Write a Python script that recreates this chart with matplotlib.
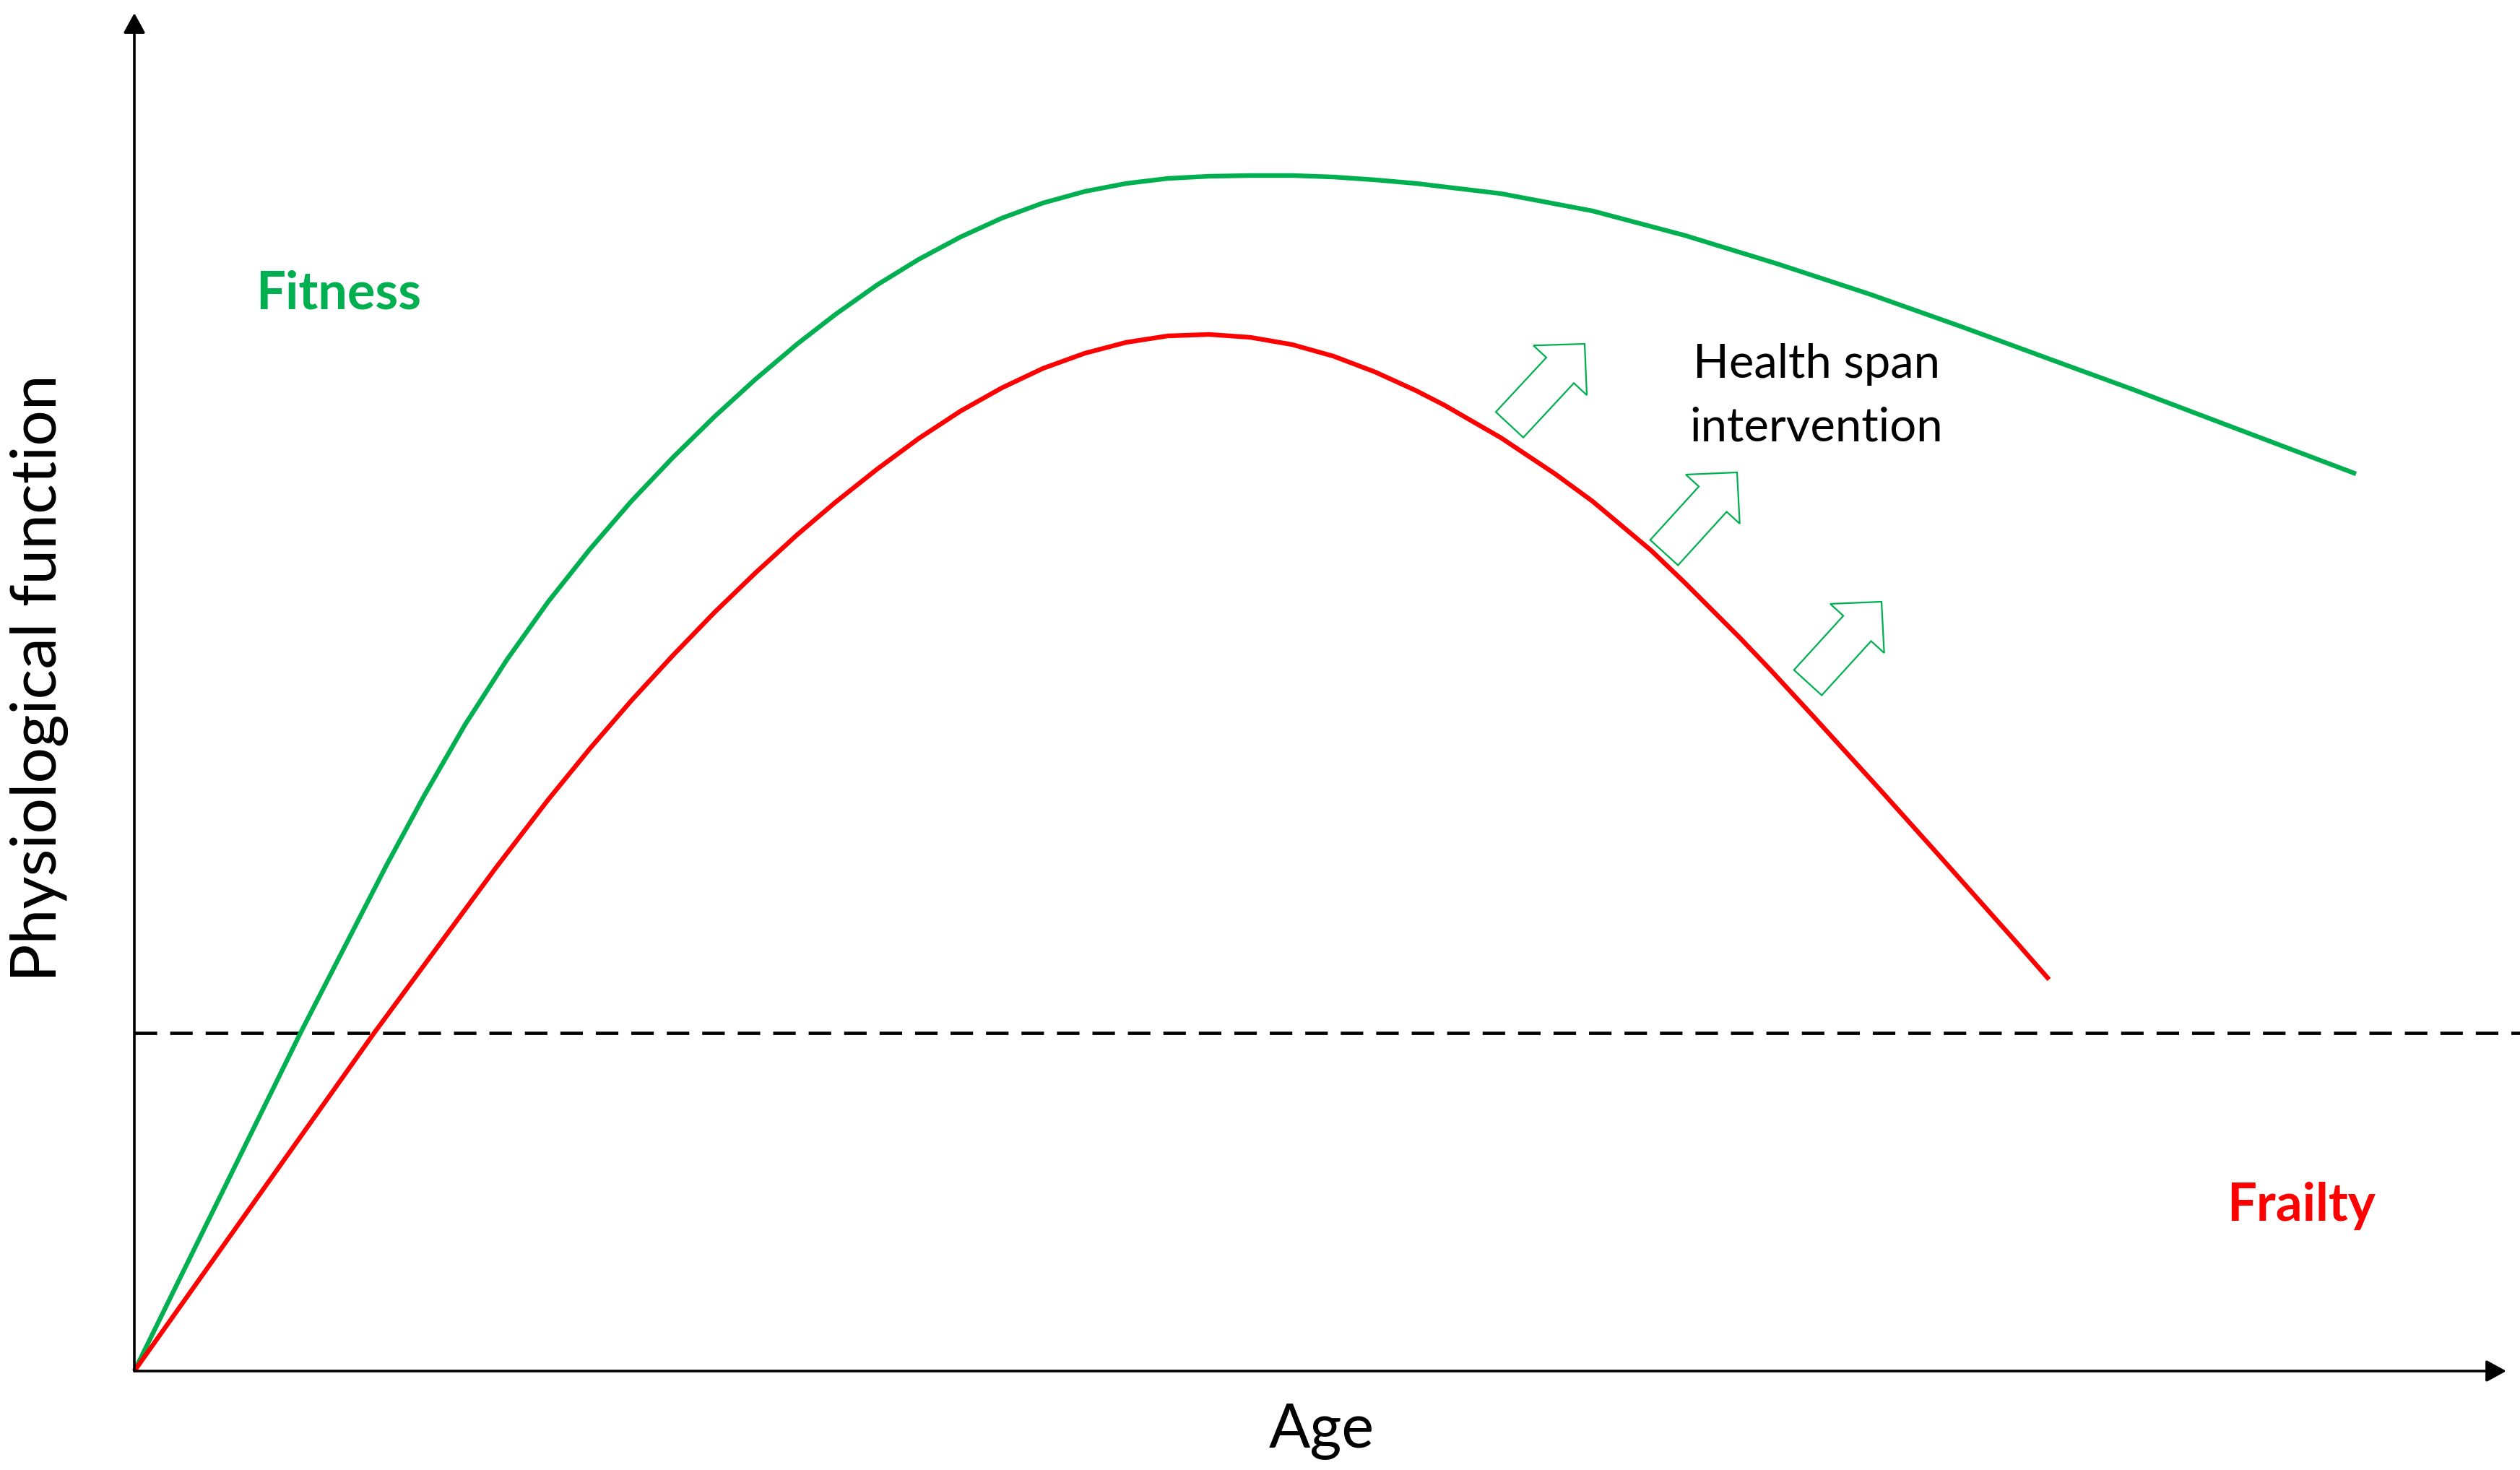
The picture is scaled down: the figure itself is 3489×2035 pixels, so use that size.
import matplotlib
matplotlib.use("Agg")
import matplotlib.pyplot as plt
from matplotlib.patches import FancyArrow

# ---- data (schematic units) ----
fitness_age = [0, 23.0, 34.9, 40.1, 45.8, 51.6, 57.3, 63.1, 68.8, 74.5,
               80.3, 86.0, 91.8, 97.1, 102.9, 108.6, 114.4, 120.1, 125.8,
               131.6, 137.3, 143.1, 148.8, 154.5, 160.3, 166.0, 171.8, 177.5,
               189.2, 201.9, 214.7, 227.4, 240.2, 252.9, 265.7, 276.4, 283.8,
               307.6]
fitness_func = [0, 46.8, 70.0, 79.6, 89.5, 98.5, 106.5, 113.8, 120.4, 126.4,
                132.1, 137.3, 142.2, 146.3, 150.4, 153.9, 157.0, 159.6, 161.7,
                163.3, 164.4, 165.1, 165.4, 165.5, 165.5, 165.3, 164.9, 164.4,
                163.0, 160.6, 157.2, 153.3, 149.1, 144.6, 139.9, 136.0, 133.2,
                124.2]

frailty_age = [0, 33.2, 50.0, 57.3, 63.1, 68.8, 74.5, 80.3, 86.0, 91.8,
               97.1, 102.9, 108.6, 114.4, 120.1, 125.8, 131.6, 137.3, 143.1,
               148.8, 154.5, 160.3, 166.0, 171.8, 177.5, 181.4, 189.2, 196.7,
               201.9, 210.0, 214.7, 222.2, 226.4, 232.4, 241.5, 249.4, 260.8,
               265.1]
frailty_func = [0, 46.8, 69.6, 79.1, 86.2, 92.8, 99.0, 105.0, 110.5, 115.8,
                120.3, 124.9, 129.1, 132.9, 136.1, 138.8, 140.9, 142.4, 143.3,
                143.5, 143.1, 142.1, 140.5, 138.3, 135.7, 133.7, 129.2, 124.2,
                120.4, 113.6, 109.1, 101.6, 97.2, 90.7, 80.7, 71.9, 59.1,
                54.2]

threshold = 46.8

arrow_age = [190.4, 211.8, 231.7]
arrow_func = [131.0, 113.3, 95.3]
arrow_dage = [10.4, 10.1, 10.2]
arrow_dfunc = [11.2, 11.1, 11.2]

x_label = "Age"
y_label = "Physiological function"
fitness_label = "Fitness"
frailty_label = "Frailty"
note_lines = ["Health span", "intervention"]

GREEN = "#00B050"
RED = "#FF0000"

fig = plt.figure(figsize=(17.445, 10.175), dpi=200)
ax = fig.add_axes([0, 0, 1, 1])
ax.set_xlim(-18.6, 330.3)
ax.set_ylim(-13.7, 189.8)
ax.axis("off")

# axes arrows
arrow_kw = dict(arrowstyle="-|>,head_length=0.42,head_width=0.23",
                color="black", lw=1.3, mutation_scale=20,
                shrinkA=0, shrinkB=0)
ax.annotate("", xy=(0, 188.0), xytext=(0, 0), arrowprops=arrow_kw)
ax.annotate("", xy=(328.4, 0), xytext=(0, 0), arrowprops=arrow_kw)

# threshold
ax.hlines(threshold, 0, 330.3, colors="black", lw=1.7,
          linestyles=(0, (6.6, 3.8)))

# curves
ax.plot(fitness_age, fitness_func, color=GREEN, lw=2.3,
        solid_joinstyle="round", solid_capstyle="butt")
ax.plot(frailty_age, frailty_func, color=RED, lw=2.3,
        solid_joinstyle="round", solid_capstyle="butt")

# intervention arrows
for a, f, da, df in zip(arrow_age, arrow_func, arrow_dage, arrow_dfunc):
    ax.add_patch(FancyArrow(a, f, da, df, width=5.2, head_width=10.1,
                            head_length=5.0, length_includes_head=True,
                            fill=False, edgecolor=GREEN, lw=0.8,
                            joinstyle="miter"))

font = "Lato"
ax.text(28.3, 147.1, fitness_label, color=GREEN, fontsize=26,
        fontweight="bold", family=font, ha="center", va="baseline")
ax.text(300.0, 20.8, frailty_label, color=RED, fontsize=26,
        fontweight="bold", family=font, ha="center", va="baseline")
ax.text(232.9, 137.5, note_lines[0], color="black", fontsize=23.5,
        family=font, ha="center", va="baseline")
ax.text(232.9, 128.8, note_lines[1], color="black", fontsize=23.5,
        family=font, ha="center", va="baseline")
ax.text(164.4, -10.5, x_label, color="black", fontsize=30.5,
        family=font, ha="center", va="baseline")
ax.text(-13.2, 95.9, y_label, color="black", fontsize=31.5,
        family=font, ha="center", va="center", rotation=90)

fig.savefig("out.png", dpi=200, facecolor="white")
